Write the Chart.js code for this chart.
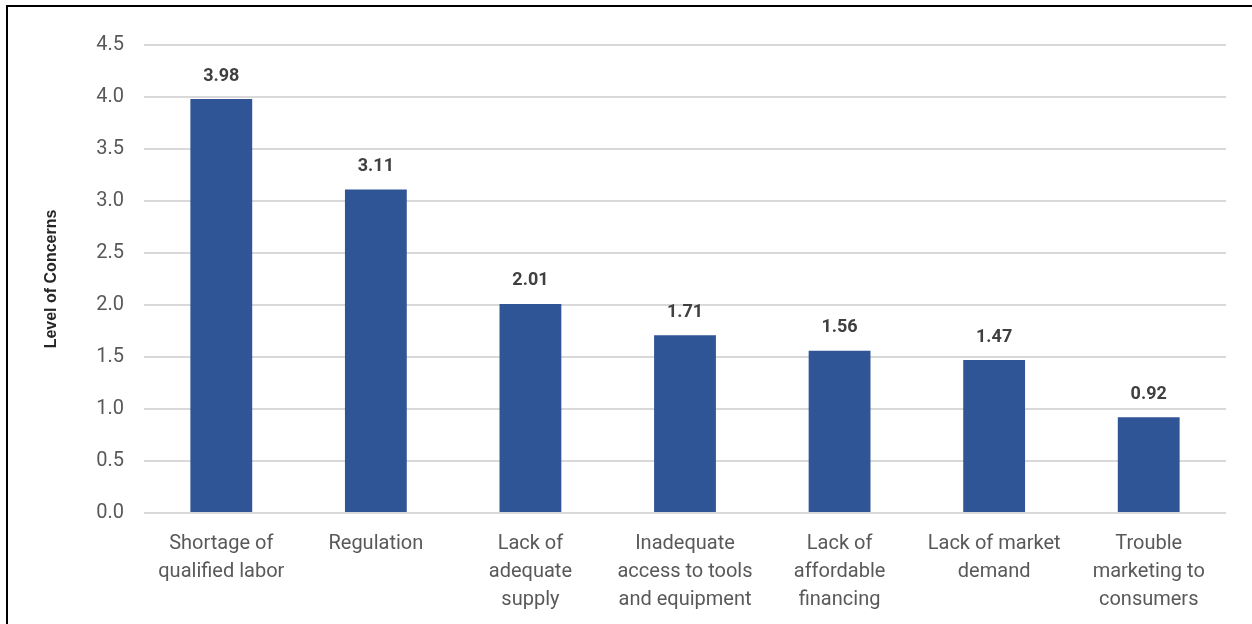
<!DOCTYPE html>
<html>
<head>
<meta charset="utf-8">
<script src="https://cdn.jsdelivr.net/npm/chart.js@4"></script>
<style>
  html, body { margin: 0; padding: 0; background: #fff; }
  #wrap { position: relative; width: 1252px; height: 624px; overflow: hidden; }
  #frame { position: absolute; left: 6px; top: 5px; width: 1260px; height: 640px; border: 2px solid #000; box-sizing: border-box; }
  canvas { position: absolute; left: 0; top: 0; }
</style>
</head>
<body>
<div id="wrap">
  <div id="frame"></div>
  <canvas id="concernChart" width="1252" height="624"></canvas>
</div>
<script>
const categories = [
  ['Shortage of', 'qualified labor'],
  ['Regulation'],
  ['Lack of', 'adequate', 'supply'],
  ['Inadequate', 'access to tools', 'and equipment'],
  ['Lack of', 'affordable', 'financing'],
  ['Lack of market', 'demand'],
  ['Trouble', 'marketing to', 'consumers']
]
const concernLevels = [3.98, 3.11, 2.01, 1.71, 1.56, 1.47, 0.92]

const valueLabels = {
  id: 'valueLabels',
  afterDatasetsDraw(chart) {
    const ctx = chart.ctx
    const meta = chart.getDatasetMeta(0)
    ctx.save()
    ctx.font = 'bold 18px Roboto'
    ctx.fillStyle = '#404040'
    ctx.textAlign = 'center'
    ctx.textBaseline = 'middle'
    meta.data.forEach((bar, i) => {
      ctx.fillText(concernLevels[i].toFixed(2), bar.x, bar.y - 23)
    })
    ctx.restore()
  }
}

const ctx = document.getElementById('concernChart').getContext('2d')

new Chart(ctx, {
  type: 'bar',
  data: {
    labels: categories,
    datasets: [{
      label: 'Level of Concerns',
      data: concernLevels,
      backgroundColor: '#2F5597',
      categoryPercentage: 1,
      barPercentage: 0.4,
    }]
  },
  options: {
    responsive: false,
    animation: false,
    layout: {
      padding: { left: 42, top: 45, right: 26, bottom: 0 }
    },
    scales: {
      x: {
        grid: { display: false },
        border: { display: false },
        ticks: {
          color: '#595959',
          padding: 9,
          maxRotation: 0,
          autoSkip: false,
          font: { family: 'Roboto', size: 20, lineHeight: 1.4 }
        },
        afterFit(scale) { scale.height = 111 }
      },
      y: {
        min: 0,
        max: 4.5,
        ticks: {
          stepSize: 0.5,
          color: '#595959',
          padding: 20,
          font: { family: 'Roboto', size: 20 },
          callback: (v) => Number(v).toFixed(1)
        },
        grid: { color: '#d9d9d9', lineWidth: 2, drawTicks: false },
        border: { display: false },
        title: {
          display: true,
          text: 'Level of Concerns',
          color: '#262626',
          padding: 0,
          font: { family: 'Liberation Sans', size: 16, weight: 'bold' }
        },
        afterFit(scale) { scale.width = 102 }
      }
    },
    plugins: {
      legend: { display: false },
      tooltip: { enabled: false }
    }
  },
  plugins: [valueLabels]
})
</script>
</body>
</html>
